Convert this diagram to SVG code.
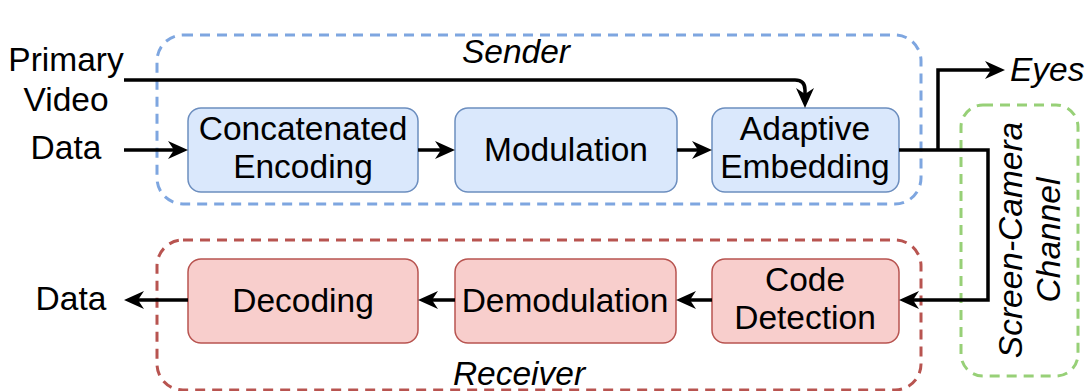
<svg xmlns="http://www.w3.org/2000/svg" width="1089" height="391" viewBox="0 0 1089 391">
<style>
text{font-family:"Liberation Sans",Arial,Helvetica,sans-serif;font-size:33.5px;fill:#000}
.it{font-style:italic}
.mid{text-anchor:middle}
.blue{fill:#dae8fc;stroke:#6c8ebf;stroke-width:1.5}
.red{fill:#f8cecc;stroke:#b85450;stroke-width:1.5}
.grp{fill:none;stroke-width:3;stroke-dasharray:10 7}
.conn{fill:none;stroke:#000;stroke-width:3.5}
</style>
<defs>
<marker id="ah" markerUnits="userSpaceOnUse" markerWidth="20" markerHeight="18" refX="13" refY="9" orient="auto">
<path d="M0,0 L20,9 L0,18 L6,9 z" fill="#000"/>
</marker>
</defs>
<g id="sender-group">
<rect class="grp" x="157" y="35" width="764" height="169" rx="26" stroke="#7ea6e0"/>
<text class="it mid" x="516" y="63">Sender</text>
</g>
<g id="receiver-group">
<rect class="grp" x="157" y="240" width="764" height="150" rx="26" stroke="#b85450"/>
<text class="it mid" x="519" y="385">Receiver</text>
</g>
<g id="channel-group">
<rect class="grp" x="961" y="105" width="117" height="271" rx="22" stroke="#97d077"/>
<text class="it mid" transform="rotate(-90)" x="-240" y="1022">Screen-Camera</text>
<text class="it mid" transform="rotate(-90)" x="-240" y="1060">Channel</text>
</g>
<g id="input-labels">
<text class="mid" x="66" y="71">Primary</text>
<text class="mid" x="66" y="111">Video</text>
<text class="mid" x="66" y="159">Data</text>
</g>
<g id="output-labels">
<text class="mid" x="71" y="310">Data</text>
<text class="it" x="1010" y="81">Eyes</text>
</g>
<g id="concatenated-encoding">
<rect class="blue" x="188" y="108" width="230" height="84" rx="13"/>
<text class="mid" x="303" y="140">Concatenated</text>
<text class="mid" x="303" y="178">Encoding</text>
</g>
<g id="modulation">
<rect class="blue" x="455" y="108" width="222" height="84" rx="13"/>
<text class="mid" x="566" y="161">Modulation</text>
</g>
<g id="adaptive-embedding">
<rect class="blue" x="712" y="108" width="187" height="84" rx="13"/>
<text class="mid" x="805" y="140">Adaptive</text>
<text class="mid" x="805" y="178">Embedding</text>
</g>
<g id="decoding">
<rect class="red" x="188" y="259" width="230" height="84" rx="13"/>
<text class="mid" x="303" y="312">Decoding</text>
</g>
<g id="demodulation">
<rect class="red" x="455" y="259" width="221" height="84" rx="13"/>
<text class="mid" x="565" y="312">Demodulation</text>
</g>
<g id="code-detection">
<rect class="red" x="712" y="259" width="187" height="84" rx="13"/>
<text class="mid" x="805" y="291">Code</text>
<text class="mid" x="805" y="329">Detection</text>
</g>
<g id="connectors">
<path class="conn" d="M124,150 H181" marker-end="url(#ah)"/>
<path class="conn" d="M418,150 H448" marker-end="url(#ah)"/>
<path class="conn" d="M677,150 H705" marker-end="url(#ah)"/>
<path class="conn" d="M124,80 H795 Q805,80 805,90 V101" marker-end="url(#ah)"/>
<path class="conn" d="M899,150 H988 V300 H906" marker-end="url(#ah)"/>
<path class="conn" d="M938,150 V70 H998" marker-end="url(#ah)"/>
<path class="conn" d="M712,300 H683" marker-end="url(#ah)"/>
<path class="conn" d="M455,300 H425" marker-end="url(#ah)"/>
<path class="conn" d="M188,300 H131" marker-end="url(#ah)"/>
</g>
</svg>
